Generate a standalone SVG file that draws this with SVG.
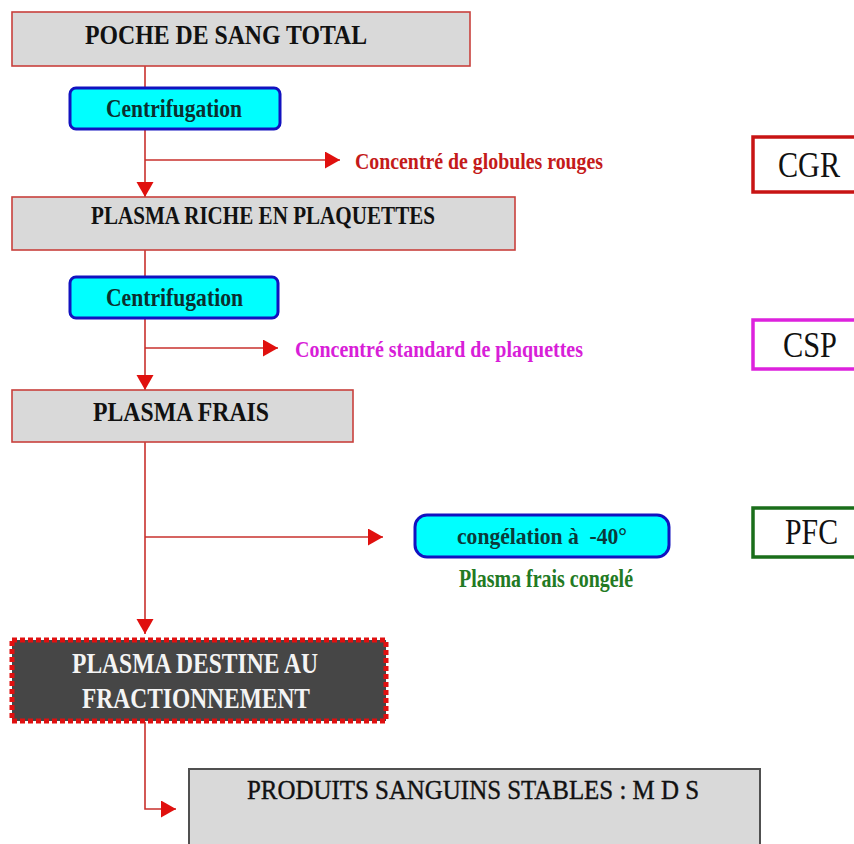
<svg xmlns="http://www.w3.org/2000/svg" width="854" height="844" viewBox="0 0 854 844">
<defs>
<marker id="ah" markerUnits="userSpaceOnUse" markerWidth="16" markerHeight="18" refX="15" refY="8.5" orient="auto">
<path d="M0,0 L15,8.5 L0,17 z" fill="#e0100e"/>
</marker>
<style>
.t{font-family:"Liberation Serif","Times New Roman",serif;font-weight:bold;}
.n{font-family:"Liberation Serif","Times New Roman",serif;font-weight:normal;}
.gray{fill:#d9d9d9;stroke:#c8403c;stroke-width:1.6;}
.cent{fill:#00ffff;stroke:#1212c0;stroke-width:3;}
.conn{fill:none;stroke:#c8302c;stroke-width:1.6;}
.code{fill:#ffffff;stroke-width:3.5;}
</style>
</defs>
<rect width="854" height="844" fill="#ffffff"/>

<g id="connectors">
<path class="conn" d="M145,66 V197" marker-end="url(#ah)"/>
<path class="conn" d="M145,160 H340" marker-end="url(#ah)"/>
<path class="conn" d="M145,250 V390" marker-end="url(#ah)"/>
<path class="conn" d="M145,348 H278" marker-end="url(#ah)"/>
<path class="conn" d="M145,442 V634" marker-end="url(#ah)"/>
<path class="conn" d="M145,537 H383" marker-end="url(#ah)"/>
<path class="conn" d="M145,722 V809 H176" marker-end="url(#ah)"/>
</g>

<g id="poche">
<rect class="gray" x="12" y="12" width="458" height="54"/>
<text class="t" x="85" y="44" font-size="28" textLength="282" lengthAdjust="spacingAndGlyphs" fill="#111">POCHE DE SANG TOTAL</text>
</g>

<g id="centrifugation1">
<rect class="cent" x="70" y="88" width="210" height="41" rx="6"/>
<text class="t" x="106" y="117" font-size="25" textLength="136" lengthAdjust="spacingAndGlyphs" fill="#0b3030">Centrifugation</text>
</g>

<g id="cgr-label">
<text class="t" x="355" y="169" font-size="24" textLength="248" lengthAdjust="spacingAndGlyphs" fill="#c41a1a">Concentré de globules rouges</text>
</g>

<g id="cgr">
<rect class="code" x="753" y="137" width="110" height="55" stroke="#c81414"/>
<text class="n" x="778" y="177" font-size="36" textLength="62" lengthAdjust="spacingAndGlyphs" fill="#111">CGR</text>
</g>

<g id="prp">
<rect class="gray" x="12" y="197" width="503" height="53"/>
<text class="t" x="91" y="224" font-size="26" textLength="344" lengthAdjust="spacingAndGlyphs" fill="#111">PLASMA RICHE EN PLAQUETTES</text>
</g>

<g id="centrifugation2">
<rect class="cent" x="70" y="277" width="208" height="41" rx="6"/>
<text class="t" x="106" y="306" font-size="25" textLength="137" lengthAdjust="spacingAndGlyphs" fill="#0b3030">Centrifugation</text>
</g>

<g id="csp-label">
<text class="t" x="295" y="357" font-size="24" textLength="288" lengthAdjust="spacingAndGlyphs" fill="#d81ed8">Concentré standard de plaquettes</text>
</g>

<g id="csp">
<rect class="code" x="753" y="320" width="110" height="49" stroke="#dd22dd"/>
<text class="n" x="783" y="357" font-size="36" textLength="54" lengthAdjust="spacingAndGlyphs" fill="#111">CSP</text>
</g>

<g id="plasma-frais">
<rect class="gray" x="12" y="390" width="341" height="52"/>
<text class="t" x="93" y="421" font-size="28" textLength="176" lengthAdjust="spacingAndGlyphs" fill="#111">PLASMA FRAIS</text>
</g>

<g id="congelation">
<rect class="cent" x="415" y="515" width="254" height="42" rx="12"/>
<text class="t" x="457" y="544" font-size="23" textLength="170" lengthAdjust="spacingAndGlyphs" fill="#0b3a3a" style="white-space:pre">congélation à  -40°</text>
</g>

<g id="pfc-label">
<text class="t" x="459" y="587" font-size="25" textLength="174" lengthAdjust="spacingAndGlyphs" fill="#237a23">Plasma frais congelé</text>
</g>

<g id="pfc">
<rect class="code" x="753" y="508" width="110" height="49" stroke="#1a6e1a"/>
<text class="n" x="785" y="544" font-size="36" textLength="53" lengthAdjust="spacingAndGlyphs" fill="#111">PFC</text>
</g>

<g id="fractionnement">
<rect x="12" y="640" width="374" height="81" fill="#464646" stroke="#e01010" stroke-width="5" stroke-dasharray="5 3"/>
<text class="t" x="72" y="673" font-size="29" textLength="246" lengthAdjust="spacingAndGlyphs" fill="#f4f4f4">PLASMA DESTINE AU</text>
<text class="t" x="82" y="708" font-size="29" textLength="228" lengthAdjust="spacingAndGlyphs" fill="#f4f4f4">FRACTIONNEMENT</text>
</g>

<g id="produits">
<rect x="189" y="769" width="571" height="90" fill="#d9d9d9" stroke="#505050" stroke-width="2"/>
<text class="n" x="247" y="799" font-size="28" textLength="452" lengthAdjust="spacingAndGlyphs" fill="#111" stroke="#111" stroke-width="0.4">PRODUITS SANGUINS STABLES : M D S</text>
</g>
</svg>
